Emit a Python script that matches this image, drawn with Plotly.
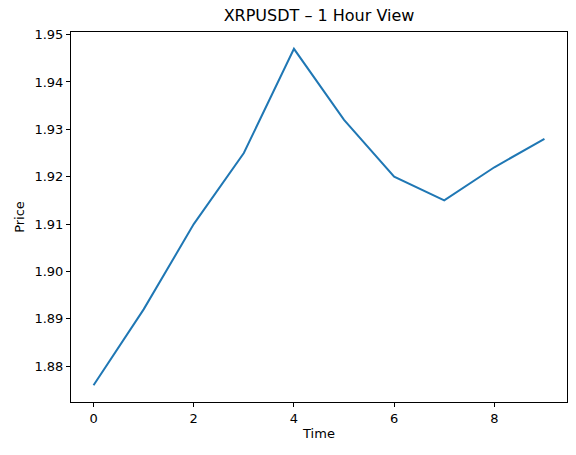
import plotly.graph_objects as go

time = [0, 1, 2, 3, 4, 5, 6, 7, 8, 9]
price = [1.876, 1.892, 1.910, 1.925, 1.947, 1.932, 1.920, 1.915, 1.922, 1.928]
x_ticks = [0, 2, 4, 6, 8]
y_ticks = [1.88, 1.89, 1.90, 1.91, 1.92, 1.93, 1.94, 1.95]

fig = go.Figure(go.Scatter(x=time, y=price, mode="lines",
                           line=dict(color="#1f77b4", width=2)))

axis_common = dict(showline=True, linecolor="black", linewidth=1, mirror=True,
                   ticks="outside", ticklen=4, tickcolor="black", showgrid=False,
                   zeroline=False, tickfont=dict(size=13, color="black"),
                   automargin=False)

fig.update_layout(
    width=576, height=455,
    margin=dict(l=71, r=9, t=32, b=53, autoexpand=False),
    paper_bgcolor="white", plot_bgcolor="white",
    font=dict(family="DejaVu Sans", color="black"),
    title=dict(text="XRPUSDT – 1 Hour View", x=0.5, xref="paper", xanchor="center",
               y=0.978, yref="container", yanchor="top", automargin=False,
               font=dict(size=16, color="black")),
    xaxis=dict(range=[-0.45, 9.45], tickvals=x_ticks,
               title=dict(text="Time", font=dict(size=13), standoff=4), **axis_common),
    yaxis=dict(range=[1.87245, 1.95055], tickvals=y_ticks, tickformat=".2f",
               title=dict(text="Price", font=dict(size=13), standoff=6), **axis_common),
    showlegend=False,
)

fig.write_html("out.html", config={"displayModeBar": False},
               post_script="document.body.style.margin='0';document.body.style.overflow='hidden';")
